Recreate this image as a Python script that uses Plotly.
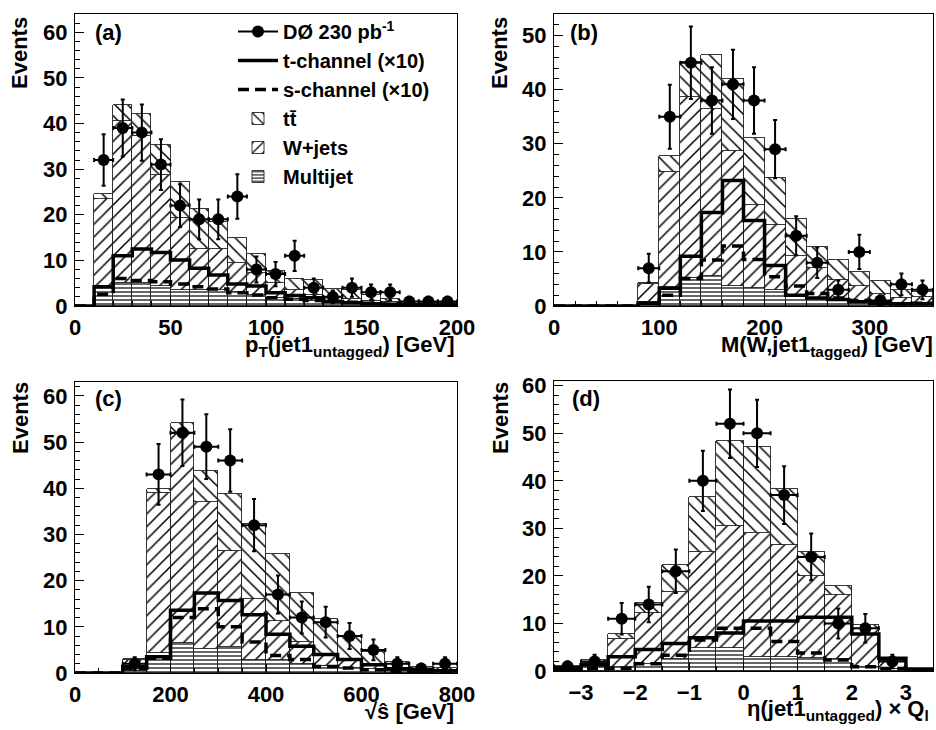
import plotly.graph_objects as go
from plotly.subplots import make_subplots

# ---------------- data ----------------
# (a) pT(jet1 untagged), bins of 10 GeV from 0 to 200
edges_a = list(range(0, 201, 10))
mj_a = [0, 4.2, 5.1, 5.1, 4.4, 3.5, 3.5, 3.5, 3.0, 2.5, 1.8, 1.5, 1.2, 0.8, 0.6, 0.5, 0.4, 0.2, 0.2, 0.2]
wj_a = [0, 19.2, 35.5, 32.2, 24.4, 15.7, 9.1, 9.1, 6.4, 4.7, 3.2, 2.0, 1.3, 1.2, 0.9, 0.7, 0.4, 0.1, 0.1, 0.1]
tt_a = [0, 1.1, 3.4, 4.7, 6.4, 7.9, 8.7, 5.9, 5.4, 4.1, 2.7, 2.5, 3.1, 1.7, 2.0, 1.2, 0.7, 0.5, 0.4, 0.3]
tch_a = [0, 4.2, 11.0, 12.5, 11.7, 10.1, 8.3, 6.8, 4.8, 4.4, 2.9, 2.3, 1.8, 1.0, 0.7, 0.5, 0.4, 0.3, 0.2, 0.2]
sch_a = [0, 2.6, 6.0, 5.6, 5.3, 4.8, 4.2, 3.7, 2.9, 2.4, 1.8, 1.5, 1.2, 1.0, 0.8, 0.6, 0.4, 0.3, 0.2, 0.2]
data_a = [None, 32, 39, 38, 31, 22, 19, 19, 24, 8, 7, 11, 4, 2, 4, 3, 3, 1, 1, 1]

# (b) M(W, jet1 tagged), bins of 20 GeV from 0 to 360
edges_b = list(range(0, 361, 20))
mj_b = [0, 0, 0, 0, 0.8, 3.6, 5.1, 5.5, 3.7, 3.3, 3.0, 1.8, 1.3, 1.2, 1.0, 0.7, 0.5, 0.4]
wj_b = [0, 0, 0, 0, 3.2, 21.2, 33.5, 30.9, 25.0, 15.3, 11.9, 7.4, 5.7, 3.6, 2.7, 1.6, 0.9, 1.3]
tt_b = [0, 0, 0, 0, 0.2, 3.0, 6.6, 10.0, 13.3, 12.5, 8.8, 6.9, 4.0, 3.8, 2.6, 2.3, 1.6, 0.8]
tch_b = [0, 0, 0, 0, 0.5, 3.3, 9.2, 17.3, 23.2, 15.8, 7.5, 2.0, 1.5, 1.2, 0.8, 0.5, 0.4, 0.4]
sch_b = [0, 0, 0, 0, 0.5, 2.0, 5.1, 8.5, 11.1, 8.6, 5.4, 3.7, 2.3, 1.5, 1.0, 0.6, 0.4, 0.5]
data_b = [None, None, None, None, 7, 35, 45, 38, 41, 38, 29, 13, 8, 3, 10, 1, 4, 3]

# (c) sqrt(s-hat), bins of 50 GeV from 0 to 800
edges_c = list(range(0, 801, 50))
mj_c = [0, 0, 0.5, 4.3, 6.5, 5.2, 5.6, 2.9, 2.9, 2.0, 1.5, 1.0, 0.8, 0.5, 0.3, 0.3]
wj_c = [0, 0, 2.3, 34.7, 45.3, 31.8, 20.9, 13.2, 8.4, 4.8, 2.6, 1.6, 0.7, 0.5, 0.2, 0.2]
tt_c = [0, 0, 0.3, 0.9, 2.4, 6.7, 12.3, 16.1, 14.5, 10.6, 7.7, 5.3, 3.0, 1.3, 0.8, 0.6]
tch_c = [0, 0, 1.4, 3.5, 13.6, 17.3, 15.7, 12.6, 8.4, 5.8, 4.0, 2.9, 1.8, 0.9, 0.6, 0.5]
sch_c = [0, 0, 1.0, 3.2, 12.0, 13.9, 10.0, 6.7, 3.8, 2.9, 1.4, 1.1, 0.7, 0.4, 0.3, 0.3]
data_c = [None, None, 2, 43, 52, 49, 46, 32, 17, 12, 11, 8, 5, 2, 1, 2]

# (d) eta(jet1 untagged) x Q_l, bins of 0.5 from -3.5 to 3.5
edges_d = [-3.5, -3.0, -2.5, -2.0, -1.5, -1.0, -0.5, 0.0, 0.5, 1.0, 1.5, 2.0, 2.5, 3.0, 3.5]
mj_d = [0.3, 0.8, 0.8, 1.5, 2.6, 4.8, 4.8, 3.0, 3.0, 2.8, 2.5, 0.8, 0.4, 0.1]
wj_d = [0.3, 0.9, 5.9, 10.6, 14.1, 20.3, 25.7, 26.1, 23.5, 17.2, 13.5, 8.0, 1.6, 0.1]
tt_d = [0.3, 0.6, 1.0, 2.2, 5.5, 11.6, 17.9, 18.1, 11.8, 5.0, 1.8, 0.9, 0.6, 0.1]
tch_d = [0.4, 1.3, 3.0, 4.5, 5.8, 7.0, 8.0, 10.5, 10.5, 11.3, 11.3, 7.8, 2.7, 0.4]
sch_d = [0.3, 0.5, 0.6, 1.5, 3.3, 6.5, 9.0, 9.0, 6.2, 3.8, 2.3, 0.9, 0.5, 0.1]
data_d = [1, 2, 11, 14, 21, 40, 52, 50, 37, 24, 10, 9, 2, None]

legend_names = ["DØ 230 pb<sup>-1</sup>", "t-channel (×10)", "s-channel (×10)",
                "tt\u0304", "W+jets", "Multijet"]

# ---------------- figure ----------------
FONT = "Liberation Sans, Arial, Helvetica, sans-serif"
fig = make_subplots(rows=2, cols=2)

panels = [
    (edges_a, mj_a, wj_a, tt_a, tch_a, sch_a, data_a, 1, 1),
    (edges_b, mj_b, wj_b, tt_b, tch_b, sch_b, data_b, 1, 2),
    (edges_c, mj_c, wj_c, tt_c, tch_c, sch_c, data_c, 2, 1),
    (edges_d, mj_d, wj_d, tt_d, tch_d, sch_d, data_d, 2, 2),
]

def pat(shape, size, sol):
    return dict(shape=shape, fgcolor="black", bgcolor="white", size=size, solidity=sol, fillmode="replace")

for i, (edges, mj, wj, tt, tch, sch, dat, r, c) in enumerate(panels):
    first = (i == 0)
    centers = [(edges[k] + edges[k + 1]) / 2 for k in range(len(edges) - 1)]
    widths = [edges[k + 1] - edges[k] for k in range(len(edges) - 1)]
    line = dict(color="#222", width=0.9)
    fig.add_trace(go.Bar(x=centers, y=mj, width=widths, name=legend_names[5],
                         marker=dict(color="white", line=line, pattern=pat("-", 4, 0.3)),
                         showlegend=first, legendrank=6), row=r, col=c)
    fig.add_trace(go.Bar(x=centers, y=wj, width=widths, name=legend_names[4],
                         marker=dict(color="white", line=line, pattern=pat("/", 9, 0.17)),
                         showlegend=first, legendrank=5), row=r, col=c)
    fig.add_trace(go.Bar(x=centers, y=tt, width=widths, name=legend_names[3],
                         marker=dict(color="white", line=line, pattern=pat("\\", 9, 0.17)),
                         showlegend=first, legendrank=4), row=r, col=c)
    fig.add_trace(go.Scatter(x=edges, y=tch + [tch[-1]], mode="lines", line_shape="hv",
                             line=dict(color="black", width=3.5), name=legend_names[1],
                             showlegend=first, legendrank=2), row=r, col=c)
    fig.add_trace(go.Scatter(x=edges, y=sch + [sch[-1]], mode="lines", line_shape="hv",
                             line=dict(color="black", width=3.5, dash="11px,6px"),
                             name=legend_names[2], showlegend=first, legendrank=3), row=r, col=c)
    px = [centers[k] for k in range(len(dat)) if dat[k] is not None]
    py = [dat[k] for k in range(len(dat)) if dat[k] is not None]
    pw = [widths[k] / 2 for k in range(len(dat)) if dat[k] is not None]
    pe = [v ** 0.5 for v in py]
    fig.add_trace(go.Scatter(x=px, y=py, mode="markers",
                             marker=dict(color="black", size=12),
                             error_y=dict(type="data", array=pe, color="black", thickness=2, width=2),
                             error_x=dict(type="data", array=pw, color="black", thickness=2, width=2),
                             showlegend=False), row=r, col=c)
    if first:
        fig.add_trace(go.Scatter(x=[None], y=[None], mode="lines+markers",
                                 marker=dict(color="black", size=12),
                                 line=dict(color="black", width=2),
                                 name=legend_names[0], legendrank=1), row=r, col=c)

W, H = 936, 730
xdom = {1: [75 / W, 457 / W], 2: [554 / W, 933 / W]}
ydom = {1: [1 - 306 / H, 1 - 14 / H], 2: [1 - 673 / H, 1 - 382 / H]}
ydom_d = [1 - 671 / H, 1 - 381 / H]

axfont = dict(family=FONT, size=22, color="black", weight="bold")
xcfg = [  # range, major dtick, minor dtick
    ([0, 200], 50, 10),
    ([0, 360], 100, 20),
    ([0, 800], 200, 50),
    ([-3.5, 3.5], 1, 0.5),
]
ycfg = [[0, 64], [0, 54], [0, 63], [0, 61]]

for i in range(4):
    r, c = divmod(i, 2)
    r += 1; c += 1
    rng, dt, mdt = xcfg[i]
    fig.update_xaxes(range=rng, dtick=dt, tick0=0, ticks="inside", ticklen=9, tickwidth=1,
                     tickcolor="black", showline=True, linecolor="black", linewidth=1,
                     mirror=True, showgrid=False, zeroline=False, tickfont=axfont,
                     automargin=False, ticklabelstandoff=2,
                     minor=dict(dtick=mdt, ticks="inside", ticklen=5, tickcolor="black", showgrid=False),
                     domain=xdom[c], row=r, col=c)
    fig.update_yaxes(range=ycfg[i], dtick=10, ticks="inside", ticklen=9, tickwidth=1,
                     tickcolor="black", showline=True, linecolor="black", linewidth=1,
                     mirror=True, showgrid=False, zeroline=False, tickfont=axfont,
                     automargin=False, ticklabelstandoff=2,
                     minor=dict(dtick=2, ticks="inside", ticklen=5, tickcolor="black", showgrid=False),
                     domain=(ydom_d if i == 3 else ydom[r]), row=r, col=c)

# axis titles and panel labels as annotations
ann_font = dict(family=FONT, size=22, color="black", weight="bold")
def A(text, x, y, xanchor="left", yanchor="middle", angle=0):
    fig.add_annotation(text=text, x=x / W, y=1 - y / H, xref="paper", yref="paper",
                       xanchor=xanchor, yanchor=yanchor, showarrow=False, font=ann_font,
                       textangle=angle)

for (xx, yy) in [(20, 53), (500, 53), (20, 418), (500, 418)]:
    A("Events", xx, yy, xanchor="center", yanchor="middle", angle=-90)

A("(a)", 93, 33); A("(b)", 568, 33); A("(c)", 93, 398); A("(d)", 570, 398)
A("p<sub>T</sub>(jet1<sub>untagged</sub>) [GeV]", 457, 330, xanchor="right", yanchor="top")
A("M(W,jet1<sub>tagged</sub>) [GeV]", 935, 330, xanchor="right", yanchor="top")
A("\u221a\u015d [GeV]", 456, 697, xanchor="right", yanchor="top")
A("\u03b7(jet1<sub>untagged</sub>) × Q<sub>l</sub>", 745, 694, xanchor="left", yanchor="top")

fig.update_layout(
    width=W, height=H, margin=dict(l=0, r=0, t=0, b=0, autoexpand=False),
    paper_bgcolor="white", plot_bgcolor="white",
    barmode="stack", bargap=0,
    font=dict(family=FONT, color="black"),
    legend=dict(x=233 / W, y=1 - 12 / H, xanchor="left", yanchor="top", traceorder="normal",
                bgcolor="rgba(0,0,0,0)", font=dict(family=FONT, size=20, color="black", weight="bold"),
                tracegroupgap=0, itemwidth=40),
)

fig.write_html("out.html", config={"displayModeBar": False},
               post_script="document.body.style.margin='0px';document.body.style.overflow='hidden';")
